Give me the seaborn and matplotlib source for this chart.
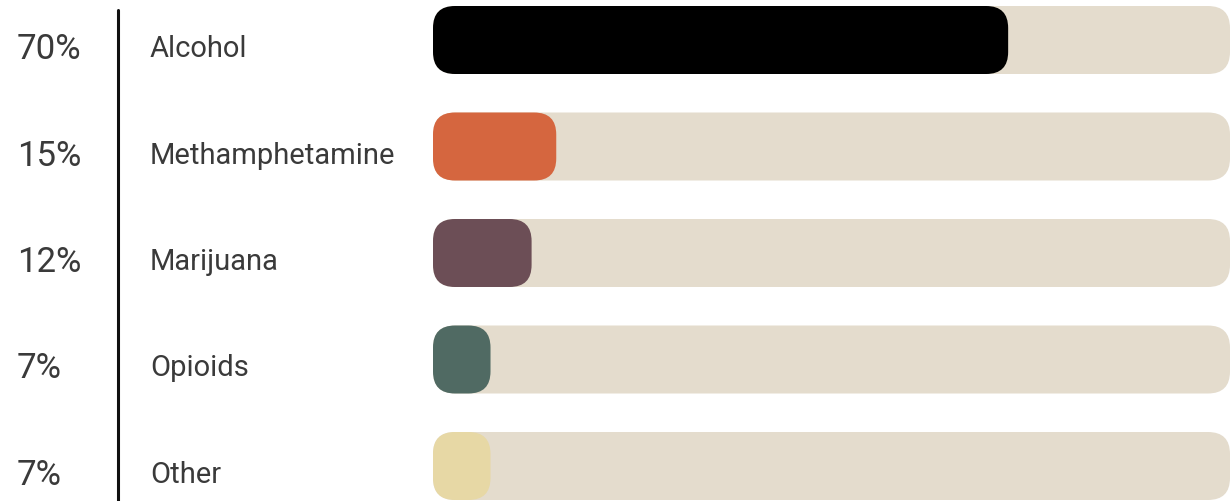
import matplotlib
matplotlib.use("Agg")
import matplotlib.pyplot as plt
import seaborn as sns
import pandas as pd
from matplotlib.patches import FancyBboxPatch
from matplotlib.lines import Line2D
from matplotlib.transforms import blended_transform_factory

categories = ["Alcohol", "Methamphetamine", "Marijuana", "Opioids", "Other"]
values = [70, 15, 12, 7, 7]
pct_labels = ["70%", "15%", "12%", "7%", "7%"]
colors = ["#000000", "#D5663F", "#6C4E56", "#506A63", "#E7D8A5"]
track_color = "#E4DCCD"
track_max = 97

sns.set_theme(style="white")
plt.rcParams["font.family"] = ["Roboto", "DejaVu Sans"]

W, H = 1230, 501
fig = plt.figure(figsize=(W / 100, H / 100), dpi=100)
ax = fig.add_axes([433 / W, 0, 797 / W, 1])

df = pd.DataFrame({"cat": categories, "val": values, "track": [track_max] * len(categories)})

bar_h = 68 / 106.5
sns.barplot(data=df, y="cat", x="track", color=track_color, width=bar_h, ax=ax,
            orient="h", saturation=1)
sns.barplot(data=df, y="cat", x="val", hue="cat", palette=colors, width=bar_h, ax=ax,
            orient="h", legend=False, saturation=1)

ax.set_xlim(0, track_max)
ax.set_ylim((H - 40) / 106.5, -40 / 106.5)

# replace rectangles with rounded boxes
px_x = track_max / 797.0
px_y = 1 / 106.5
radius = 22 * px_x
aspect = px_y / px_x
patches = list(ax.patches)
for p in patches:
    x0, y0 = p.get_x(), p.get_y()
    w, h = p.get_width(), p.get_height()
    fc = p.get_facecolor()
    z = p.get_zorder()
    p.remove()
    fb = FancyBboxPatch((x0, y0), w, h,
                        boxstyle=f"round,pad=0,rounding_size={radius}",
                        mutation_aspect=aspect, facecolor=fc, edgecolor="none",
                        zorder=z)
    ax.add_patch(fb)

ax.axis("off")

trans = blended_transform_factory(fig.transFigure, ax.transData)
for i, (c, lab) in enumerate(zip(categories, pct_labels)):
    ax.text(17 / W, i + 19 * px_y, lab, transform=trans, ha="left", va="baseline",
            fontsize=25, fontweight="normal", color="#3a3a3a", clip_on=False)
    ax.text(150 / W, i + 17 * px_y, c, transform=trans, ha="left", va="baseline",
            fontsize=21, fontweight="normal", color="#3a3a3a", clip_on=False)

fig.add_artist(Line2D([118 / W, 118 / W], [0, 1 - 10 / H], transform=fig.transFigure,
                      color="#111111", linewidth=2.2))

fig.savefig("out.png", dpi=100)
